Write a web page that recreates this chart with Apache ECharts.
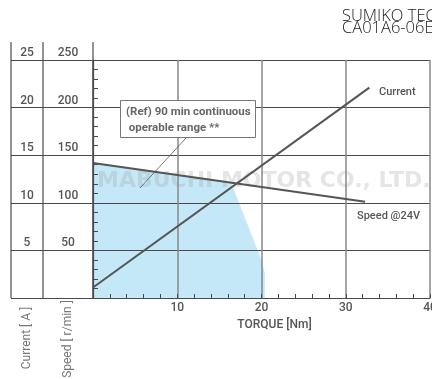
<!DOCTYPE html>
<html>
<head>
<meta charset="utf-8">
<script src="https://cdn.jsdelivr.net/npm/echarts@6/dist/echarts.min.js"></script>
<style>html,body{margin:0;padding:0;background:#fff}#c{width:432px;height:379px}</style>
</head>
<body>
<div id="c"></div>
<script>
// ---- data ----
const speedTorque = [0, 32.3];
const speedValues = [141.8, 101];
const currentTorque = [0, 32.8];
const currentValues = [1.1, 22.1];
const rangeTorque = [0, 16.4, 20.0, 20.4, 20.4];
const rangeSpeed = [141.8, 121.1, 40, 26, 0];
const torqueAxis = { min: 0, max: 40, step: 10 };
const speedAxis = { min: 0, max: 250, step: 50 };
const currentAxis = { min: 0, max: 25, step: 5 };

const zip = (a, b) => a.map((v, i) => [v, b[i]]);
const FONT = 'Roboto';
const DARK = '#4a4a4a';

const chart = echarts.init(document.getElementById('c'), null, { renderer: 'canvas' });
chart.setOption({
  backgroundColor: '#fff',
  animation: false,
  grid: [
    { left: 93, right: 2, top: 60, bottom: 81, outerBoundsMode: 'none', containLabel: false },
    { left: 11, width: 82, top: 60, bottom: 81, outerBoundsMode: 'none', containLabel: false }
  ],
  xAxis: [
    {
      gridIndex: 0, type: 'value', min: torqueAxis.min, max: torqueAxis.max, interval: torqueAxis.step, z: 2,
      axisLine: { lineStyle: { color: DARK, width: 1.2 } },
      axisTick: { show: true, inside: true, length: 4, lineStyle: { color: DARK } },
      minorTick: { show: true, splitNumber: 5, length: 4, lineStyle: { color: DARK } },
      splitLine: { show: true, lineStyle: { color: '#888', width: 1.5 } },
      axisLabel: { showMinLabel: false, margin: 4, color: '#555', fontFamily: FONT, fontWeight: 500, fontSize: 12 },
      name: 'TORQUE [Nm]', nameLocation: 'middle', nameGap: 21,
      nameTextStyle: { color: '#555', fontFamily: FONT, fontWeight: 500, fontSize: 12, padding: [0, 0, 0, 26] }
    },
    { gridIndex: 1, type: 'value', show: false, min: 0, max: 1 }
  ],
  yAxis: [
    {
      gridIndex: 0, type: 'value', position: 'left', min: speedAxis.min, max: speedAxis.max, interval: speedAxis.step, z: 2,
      axisLine: { show: true, lineStyle: { color: DARK, width: 1.2 } },
      axisTick: { show: true, inside: true, length: 5, lineStyle: { color: DARK } },
      minorTick: { show: true, splitNumber: 5, length: 5, lineStyle: { color: DARK } },
      splitLine: { show: true, lineStyle: { color: DARK, width: 1.2 } },
      axisLabel: { showMinLabel: false, showMaxLabel: true, margin: 25, align: 'center', verticalAlign: 'bottom',
        lineHeight: 14, padding: [0, 0, 0, 0], color: '#555', fontFamily: FONT, fontWeight: 500, fontSize: 12 }
    },
    {
      gridIndex: 0, type: 'value', position: 'left', min: currentAxis.min, max: currentAxis.max, interval: currentAxis.step,
      axisLine: { show: false }, axisTick: { show: false }, splitLine: { show: false },
      axisLabel: { showMinLabel: false, showMaxLabel: true, margin: 66, align: 'center', verticalAlign: 'bottom',
        lineHeight: 14, padding: [0, 0, 0, 0], color: '#555', fontFamily: FONT, fontWeight: 500, fontSize: 12 }
    },
    {
      gridIndex: 1, type: 'value', min: speedAxis.min, max: speedAxis.max, interval: speedAxis.step,
      axisLine: { show: false }, axisTick: { show: false }, axisLabel: { show: false },
      splitLine: { show: true, lineStyle: { color: DARK, width: 1.2 } }
    }
  ],
  series: [
    {
      type: 'line', xAxisIndex: 0, yAxisIndex: 0, z: 1, symbol: 'none',
      data: zip(rangeTorque, rangeSpeed),
      lineStyle: { width: 0, opacity: 0 },
      areaStyle: { color: '#c4e8f7', opacity: 1 }
    },
    {
      type: 'line', xAxisIndex: 0, yAxisIndex: 0, z: 3, symbol: 'none',
      data: zip(speedTorque, speedValues),
      lineStyle: { color: '#555', width: 2 }
    },
    {
      type: 'line', xAxisIndex: 0, yAxisIndex: 1, z: 3, symbol: 'none',
      data: zip(currentTorque, currentValues),
      lineStyle: { color: '#555', width: 2 }
    }
  ],
  graphic: [
    { type: 'text', z: 11, left: 342, top: 8,
      style: { text: 'SUMIKO TEC\nCA01A6-06E', fontFamily: 'Open Sans', fontWeight: 300, fontSize: 16.5, lineHeight: 12, fill: '#222' } },
    { type: 'text', z: 1.5, left: 97, top: 170,
      style: { text: 'MABUCHI MOTOR CO., LTD.', fontFamily: 'DejaVu Sans', fontWeight: 'bold', fontSize: 22, fill: 'rgba(160,160,160,0.28)' } },
    { type: 'line', z: 10, shape: { x1: 11, y1: 42, x2: 11, y2: 298 }, style: { stroke: DARK, lineWidth: 1.2 } },
    { type: 'line', z: 10, shape: { x1: 43, y1: 42, x2: 43, y2: 298 }, style: { stroke: DARK, lineWidth: 1.2 } },
    { type: 'line', z: 10, shape: { x1: 93, y1: 42, x2: 93, y2: 298 }, style: { stroke: DARK, lineWidth: 1.2 } },
    { type: 'line', z: 10, shape: { x1: 186, y1: 138, x2: 140, y2: 188 }, style: { stroke: '#555', lineWidth: 0.8 } },
    { type: 'rect', z: 10, shape: { x: 120.5, y: 100.5, width: 135, height: 37 }, style: { fill: '#fff', stroke: '#777', lineWidth: 1 } },
    { type: 'text', z: 11, left: 126, top: 104,
      style: { text: '(Ref) 90 min continuous\n operable range **', fontFamily: FONT, fontWeight: 'bold', fontSize: 11.5, lineHeight: 16, fill: '#666' } },
    { type: 'text', z: 11, left: 379, top: 87,
      style: { text: 'Current', fontFamily: FONT, fontWeight: 500, fontSize: 11, fill: '#555' } },
    { type: 'text', z: 11, left: 357, top: 211,
      style: { text: 'Speed @24V', fontFamily: FONT, fontWeight: 500, fontSize: 11, fill: '#555' } },
    { type: 'text', z: 11, x: 27, y: 338, rotation: Math.PI / 2,
      style: { text: 'Current [ A ]', fontFamily: FONT, fontSize: 12, fill: '#777', align: 'center', verticalAlign: 'middle' } },
    { type: 'text', z: 11, x: 68, y: 339, rotation: Math.PI / 2,
      style: { text: 'Speed [ r/min ]', fontFamily: FONT, fontSize: 12, fill: '#777', align: 'center', verticalAlign: 'middle' } }
  ]
});
</script>
</body>
</html>
